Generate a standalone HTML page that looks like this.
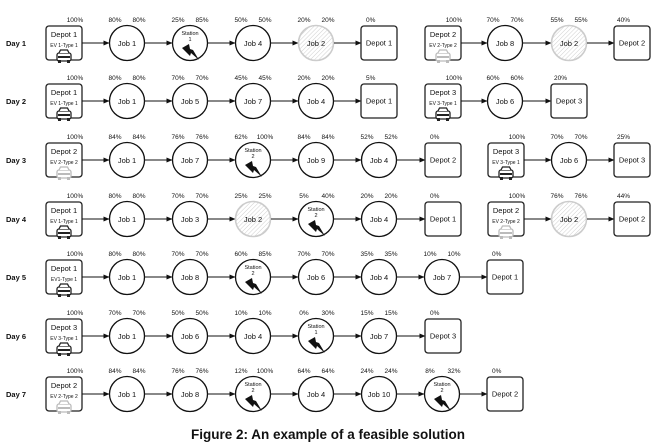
<!DOCTYPE html>
<html><head><meta charset="utf-8"><style>
html,body{margin:0;padding:0;background:#fff;width:664px;height:442px;overflow:hidden}
svg{display:block;font-family:"Liberation Sans",sans-serif}
.n{font-size:7.5px;text-anchor:middle;fill:#111}
.p{font-size:6.5px;text-anchor:middle;fill:#111}
.ps{font-size:6.5px;fill:#111}
.e{font-size:5px;text-anchor:middle;fill:#111}
.s{font-size:5.5px;text-anchor:middle;fill:#111}
.d{font-size:7.5px;font-weight:bold;fill:#111}
.c{fill:#fff;stroke:#111;stroke-width:1.3}
.h{fill:url(#hatch);stroke:#ccc;stroke-width:1.6}
.b{fill:#fff;stroke:#222;stroke-width:1.3}
.a{stroke:#111;stroke-width:1;marker-end:url(#arr)}
</style></head><body>
<svg width="664" height="442" viewBox="0 0 664 442" xmlns="http://www.w3.org/2000/svg">
<defs>
<marker id="arr" markerWidth="6" markerHeight="6" refX="5.5" refY="3" orient="auto" markerUnits="userSpaceOnUse"><path d="M0,0.5 L6,3 L0,5.5 Z" fill="#111"/></marker>
<pattern id="hatch" width="3" height="3" patternUnits="userSpaceOnUse" patternTransform="rotate(45)"><rect width="3" height="3" fill="#fff"/><line x1="0" y1="0" x2="0" y2="3" stroke="#bbb" stroke-width="0.7"/></pattern>
<g id="carb"><rect x="-7" y="-4" width="14" height="8" rx="2" fill="#fff" stroke="#222" stroke-width="1.3"/><path d="M-5,-4 L-3.5,-7 L3.5,-7 L5,-4" fill="#fff" stroke="#222" stroke-width="1.3"/><rect x="-6" y="-1" width="12" height="2" fill="#222"/><rect x="-6" y="3" width="3" height="3" fill="#222"/><rect x="3" y="3" width="3" height="3" fill="#222"/></g>
<g id="carg"><rect x="-7" y="-4" width="14" height="8" rx="2" fill="#fff" stroke="#bbb" stroke-width="1.3"/><path d="M-5,-4 L-3.5,-7 L3.5,-7 L5,-4" fill="#fff" stroke="#bbb" stroke-width="1.3"/><rect x="-6" y="-1" width="12" height="2" fill="#bbb"/><rect x="-6" y="3" width="3" height="3" fill="#bbb"/><rect x="3" y="3" width="3" height="3" fill="#bbb"/></g>
<path id="bolt" d="M-8,5 L-1,1 L0,6 L3,7 L9,17 L1,10 L0,13 Z" fill="#111"/>
</defs>

<!-- Row 1 -->
<g transform="translate(0,43)">
<text class="d" x="6" y="3">Day 1</text>
<rect class="b" x="46" y="-17" width="36" height="34" rx="3"/><text class="n" x="64" y="-6">Depot 1</text><text class="e" x="64" y="4">EV 1-Type 1</text><use href="#carb" x="64" y="14"/><text class="p" x="75" y="-21">100%</text>
<line class="a" x1="82" y1="0" x2="109" y2="0"/>
<circle class="c" cx="127" cy="0" r="17.5"/><text class="n" x="127" y="3">Job 1</text><text class="p" x="115" y="-21">80%</text><text class="p" x="139" y="-21">80%</text>
<line class="a" x1="145" y1="0" x2="172" y2="0"/>
<circle class="c" cx="190" cy="0" r="17.5"/><text class="s" x="190" y="-8">Station</text><text class="s" x="190" y="-2">1</text><use href="#bolt" x="190" y="0"/><text class="p" x="178" y="-21">25%</text><text class="p" x="202" y="-21">85%</text>
<line class="a" x1="208" y1="0" x2="235" y2="0"/>
<circle class="c" cx="253" cy="0" r="17.5"/><text class="n" x="253" y="3">Job 4</text><text class="p" x="241" y="-21">50%</text><text class="p" x="265" y="-21">50%</text>
<line class="a" x1="271" y1="0" x2="298" y2="0"/>
<circle class="h" cx="316" cy="0" r="17.5"/><text class="n" x="316" y="3">Job 2</text><text class="p" x="304" y="-21">20%</text><text class="p" x="328" y="-21">20%</text>
<line class="a" x1="334" y1="0" x2="361" y2="0"/>
<rect class="b" x="361" y="-17" width="36" height="34" rx="3"/><text class="n" x="379" y="2.5">Depot 1</text><text class="ps" x="366" y="-21">0%</text>
<rect class="b" x="425" y="-17" width="36" height="34" rx="3"/><text class="n" x="443" y="-6">Depot 2</text><text class="e" x="443" y="4">EV 2-Type 2</text><use href="#carg" x="443" y="14"/><text class="p" x="454" y="-21">100%</text>
<line class="a" x1="461" y1="0" x2="487" y2="0"/>
<circle class="c" cx="505" cy="0" r="17.5"/><text class="n" x="505" y="3">Job 8</text><text class="p" x="493" y="-21">70%</text><text class="p" x="517" y="-21">70%</text>
<line class="a" x1="523" y1="0" x2="551" y2="0"/>
<circle class="h" cx="569" cy="0" r="17.5"/><text class="n" x="569" y="3">Job 2</text><text class="p" x="557" y="-21">55%</text><text class="p" x="581" y="-21">55%</text>
<line class="a" x1="587" y1="0" x2="614" y2="0"/>
<rect class="b" x="614" y="-17" width="36" height="34" rx="3"/><text class="n" x="632" y="2.5">Depot 2</text><text class="ps" x="617" y="-21">40%</text>
</g>

<!-- Row 2 -->
<g transform="translate(0,101)">
<text class="d" x="6" y="3">Day 2</text>
<rect class="b" x="46" y="-17" width="36" height="34" rx="3"/><text class="n" x="64" y="-6">Depot 1</text><text class="e" x="64" y="4">EV 1-Type 1</text><use href="#carb" x="64" y="14"/><text class="p" x="75" y="-21">100%</text>
<line class="a" x1="82" y1="0" x2="109" y2="0"/>
<circle class="c" cx="127" cy="0" r="17.5"/><text class="n" x="127" y="3">Job 1</text><text class="p" x="115" y="-21">80%</text><text class="p" x="139" y="-21">80%</text>
<line class="a" x1="145" y1="0" x2="172" y2="0"/>
<circle class="c" cx="190" cy="0" r="17.5"/><text class="n" x="190" y="3">Job 5</text><text class="p" x="178" y="-21">70%</text><text class="p" x="202" y="-21">70%</text>
<line class="a" x1="208" y1="0" x2="235" y2="0"/>
<circle class="c" cx="253" cy="0" r="17.5"/><text class="n" x="253" y="3">Job 7</text><text class="p" x="241" y="-21">45%</text><text class="p" x="265" y="-21">45%</text>
<line class="a" x1="271" y1="0" x2="298" y2="0"/>
<circle class="c" cx="316" cy="0" r="17.5"/><text class="n" x="316" y="3">Job 4</text><text class="p" x="304" y="-21">20%</text><text class="p" x="328" y="-21">20%</text>
<line class="a" x1="334" y1="0" x2="361" y2="0"/>
<rect class="b" x="361" y="-17" width="36" height="34" rx="3"/><text class="n" x="379" y="2.5">Depot 1</text><text class="ps" x="366" y="-21">5%</text>
<rect class="b" x="425" y="-17" width="36" height="34" rx="3"/><text class="n" x="443" y="-6">Depot 3</text><text class="e" x="443" y="4">EV 3-Type 1</text><use href="#carb" x="443" y="14"/><text class="p" x="454" y="-21">100%</text>
<line class="a" x1="461" y1="0" x2="487" y2="0"/>
<circle class="c" cx="505" cy="0" r="17.5"/><text class="n" x="505" y="3">Job 6</text><text class="p" x="493" y="-21">60%</text><text class="p" x="517" y="-21">60%</text>
<line class="a" x1="523" y1="0" x2="551" y2="0"/>
<rect class="b" x="551" y="-17" width="36" height="34" rx="3"/><text class="n" x="569" y="2.5">Depot 3</text><text class="ps" x="554" y="-21">20%</text>
</g>

<!-- Row 3 -->
<g transform="translate(0,160)">
<text class="d" x="6" y="3">Day 3</text>
<rect class="b" x="46" y="-17" width="36" height="34" rx="3"/><text class="n" x="64" y="-6">Depot 2</text><text class="e" x="64" y="4">EV 2-Type 2</text><use href="#carg" x="64" y="14"/><text class="p" x="75" y="-21">100%</text>
<line class="a" x1="82" y1="0" x2="109" y2="0"/>
<circle class="c" cx="127" cy="0" r="17.5"/><text class="n" x="127" y="3">Job 1</text><text class="p" x="115" y="-21">84%</text><text class="p" x="139" y="-21">84%</text>
<line class="a" x1="145" y1="0" x2="172" y2="0"/>
<circle class="c" cx="190" cy="0" r="17.5"/><text class="n" x="190" y="3">Job 7</text><text class="p" x="178" y="-21">76%</text><text class="p" x="202" y="-21">76%</text>
<line class="a" x1="208" y1="0" x2="235" y2="0"/>
<circle class="c" cx="253" cy="0" r="17.5"/><text class="s" x="253" y="-8">Station</text><text class="s" x="253" y="-2">2</text><use href="#bolt" x="253" y="0"/><text class="p" x="241" y="-21">62%</text><text class="p" x="265" y="-21">100%</text>
<line class="a" x1="271" y1="0" x2="298" y2="0"/>
<circle class="c" cx="316" cy="0" r="17.5"/><text class="n" x="316" y="3">Job 9</text><text class="p" x="304" y="-21">84%</text><text class="p" x="328" y="-21">84%</text>
<line class="a" x1="334" y1="0" x2="361" y2="0"/>
<circle class="c" cx="379" cy="0" r="17.5"/><text class="n" x="379" y="3">Job 4</text><text class="p" x="367" y="-21">52%</text><text class="p" x="391" y="-21">52%</text>
<line class="a" x1="397" y1="0" x2="425" y2="0"/>
<rect class="b" x="425" y="-17" width="36" height="34" rx="3"/><text class="n" x="443" y="2.5">Depot 2</text><text class="ps" x="430" y="-21">0%</text>
<rect class="b" x="488" y="-17" width="36" height="34" rx="3"/><text class="n" x="506" y="-6">Depot 3</text><text class="e" x="506" y="4">EV 3-Type 1</text><use href="#carb" x="506" y="14"/><text class="p" x="517" y="-21">100%</text>
<line class="a" x1="524" y1="0" x2="551" y2="0"/>
<circle class="c" cx="569" cy="0" r="17.5"/><text class="n" x="569" y="3">Job 6</text><text class="p" x="557" y="-21">70%</text><text class="p" x="581" y="-21">70%</text>
<line class="a" x1="587" y1="0" x2="614" y2="0"/>
<rect class="b" x="614" y="-17" width="36" height="34" rx="3"/><text class="n" x="632" y="2.5">Depot 3</text><text class="ps" x="617" y="-21">25%</text>
</g>

<!-- Row 4 -->
<g transform="translate(0,219)">
<text class="d" x="6" y="3">Day 4</text>
<rect class="b" x="46" y="-17" width="36" height="34" rx="3"/><text class="n" x="64" y="-6">Depot 1</text><text class="e" x="64" y="4">EV 1-Type 1</text><use href="#carb" x="64" y="14"/><text class="p" x="75" y="-21">100%</text>
<line class="a" x1="82" y1="0" x2="109" y2="0"/>
<circle class="c" cx="127" cy="0" r="17.5"/><text class="n" x="127" y="3">Job 1</text><text class="p" x="115" y="-21">80%</text><text class="p" x="139" y="-21">80%</text>
<line class="a" x1="145" y1="0" x2="172" y2="0"/>
<circle class="c" cx="190" cy="0" r="17.5"/><text class="n" x="190" y="3">Job 3</text><text class="p" x="178" y="-21">70%</text><text class="p" x="202" y="-21">70%</text>
<line class="a" x1="208" y1="0" x2="235" y2="0"/>
<circle class="h" cx="253" cy="0" r="17.5"/><text class="n" x="253" y="3">Job 2</text><text class="p" x="241" y="-21">25%</text><text class="p" x="265" y="-21">25%</text>
<line class="a" x1="271" y1="0" x2="298" y2="0"/>
<circle class="c" cx="316" cy="0" r="17.5"/><text class="s" x="316" y="-8">Station</text><text class="s" x="316" y="-2">2</text><use href="#bolt" x="316" y="0"/><text class="p" x="304" y="-21">5%</text><text class="p" x="328" y="-21">40%</text>
<line class="a" x1="334" y1="0" x2="361" y2="0"/>
<circle class="c" cx="379" cy="0" r="17.5"/><text class="n" x="379" y="3">Job 4</text><text class="p" x="367" y="-21">20%</text><text class="p" x="391" y="-21">20%</text>
<line class="a" x1="397" y1="0" x2="425" y2="0"/>
<rect class="b" x="425" y="-17" width="36" height="34" rx="3"/><text class="n" x="443" y="2.5">Depot 1</text><text class="ps" x="430" y="-21">0%</text>
<rect class="b" x="488" y="-17" width="36" height="34" rx="3"/><text class="n" x="506" y="-6">Depot 2</text><text class="e" x="506" y="4">EV 2-Type 2</text><use href="#carg" x="506" y="14"/><text class="p" x="517" y="-21">100%</text>
<line class="a" x1="524" y1="0" x2="551" y2="0"/>
<circle class="h" cx="569" cy="0" r="17.5"/><text class="n" x="569" y="3">Job 2</text><text class="p" x="557" y="-21">76%</text><text class="p" x="581" y="-21">76%</text>
<line class="a" x1="587" y1="0" x2="614" y2="0"/>
<rect class="b" x="614" y="-17" width="36" height="34" rx="3"/><text class="n" x="632" y="2.5">Depot 2</text><text class="ps" x="617" y="-21">44%</text>
</g>

<!-- Row 5 -->
<g transform="translate(0,277)">
<text class="d" x="6" y="3">Day 5</text>
<rect class="b" x="46" y="-17" width="36" height="34" rx="3"/><text class="n" x="64" y="-6">Depot 1</text><text class="e" x="64" y="4">EV1-Type 1</text><use href="#carb" x="64" y="14"/><text class="p" x="75" y="-21">100%</text>
<line class="a" x1="82" y1="0" x2="109" y2="0"/>
<circle class="c" cx="127" cy="0" r="17.5"/><text class="n" x="127" y="3">Job 1</text><text class="p" x="115" y="-21">80%</text><text class="p" x="139" y="-21">80%</text>
<line class="a" x1="145" y1="0" x2="172" y2="0"/>
<circle class="c" cx="190" cy="0" r="17.5"/><text class="n" x="190" y="3">Job 8</text><text class="p" x="178" y="-21">70%</text><text class="p" x="202" y="-21">70%</text>
<line class="a" x1="208" y1="0" x2="235" y2="0"/>
<circle class="c" cx="253" cy="0" r="17.5"/><text class="s" x="253" y="-8">Station</text><text class="s" x="253" y="-2">2</text><use href="#bolt" x="253" y="0"/><text class="p" x="241" y="-21">60%</text><text class="p" x="265" y="-21">85%</text>
<line class="a" x1="271" y1="0" x2="298" y2="0"/>
<circle class="c" cx="316" cy="0" r="17.5"/><text class="n" x="316" y="3">Job 6</text><text class="p" x="304" y="-21">70%</text><text class="p" x="328" y="-21">70%</text>
<line class="a" x1="334" y1="0" x2="361" y2="0"/>
<circle class="c" cx="379" cy="0" r="17.5"/><text class="n" x="379" y="3">Job 4</text><text class="p" x="367" y="-21">35%</text><text class="p" x="391" y="-21">35%</text>
<line class="a" x1="397" y1="0" x2="424" y2="0"/>
<circle class="c" cx="442" cy="0" r="17.5"/><text class="n" x="442" y="3">Job 7</text><text class="p" x="430" y="-21">10%</text><text class="p" x="454" y="-21">10%</text>
<line class="a" x1="460" y1="0" x2="487" y2="0"/>
<rect class="b" x="487" y="-17" width="36" height="34" rx="3"/><text class="n" x="505" y="2.5">Depot 1</text><text class="ps" x="492" y="-21">0%</text>
</g>

<!-- Row 6 -->
<g transform="translate(0,336)">
<text class="d" x="6" y="3">Day 6</text>
<rect class="b" x="46" y="-17" width="36" height="34" rx="3"/><text class="n" x="64" y="-6">Depot 3</text><text class="e" x="64" y="4">EV 3-Type 1</text><use href="#carb" x="64" y="14"/><text class="p" x="75" y="-21">100%</text>
<line class="a" x1="82" y1="0" x2="109" y2="0"/>
<circle class="c" cx="127" cy="0" r="17.5"/><text class="n" x="127" y="3">Job 1</text><text class="p" x="115" y="-21">70%</text><text class="p" x="139" y="-21">70%</text>
<line class="a" x1="145" y1="0" x2="172" y2="0"/>
<circle class="c" cx="190" cy="0" r="17.5"/><text class="n" x="190" y="3">Job 6</text><text class="p" x="178" y="-21">50%</text><text class="p" x="202" y="-21">50%</text>
<line class="a" x1="208" y1="0" x2="235" y2="0"/>
<circle class="c" cx="253" cy="0" r="17.5"/><text class="n" x="253" y="3">Job 4</text><text class="p" x="241" y="-21">10%</text><text class="p" x="265" y="-21">10%</text>
<line class="a" x1="271" y1="0" x2="298" y2="0"/>
<circle class="c" cx="316" cy="0" r="17.5"/><text class="s" x="316" y="-8">Station</text><text class="s" x="316" y="-2">1</text><use href="#bolt" x="316" y="0"/><text class="p" x="304" y="-21">0%</text><text class="p" x="328" y="-21">30%</text>
<line class="a" x1="334" y1="0" x2="361" y2="0"/>
<circle class="c" cx="379" cy="0" r="17.5"/><text class="n" x="379" y="3">Job 7</text><text class="p" x="367" y="-21">15%</text><text class="p" x="391" y="-21">15%</text>
<line class="a" x1="397" y1="0" x2="425" y2="0"/>
<rect class="b" x="425" y="-17" width="36" height="34" rx="3"/><text class="n" x="443" y="2.5">Depot 3</text><text class="ps" x="430" y="-21">0%</text>
</g>

<!-- Row 7 -->
<g transform="translate(0,394)">
<text class="d" x="6" y="3">Day 7</text>
<rect class="b" x="46" y="-17" width="36" height="34" rx="3"/><text class="n" x="64" y="-6">Depot 2</text><text class="e" x="64" y="4">EV 2-Type 2</text><use href="#carg" x="64" y="14"/><text class="p" x="75" y="-21">100%</text>
<line class="a" x1="82" y1="0" x2="109" y2="0"/>
<circle class="c" cx="127" cy="0" r="17.5"/><text class="n" x="127" y="3">Job 1</text><text class="p" x="115" y="-21">84%</text><text class="p" x="139" y="-21">84%</text>
<line class="a" x1="145" y1="0" x2="172" y2="0"/>
<circle class="c" cx="190" cy="0" r="17.5"/><text class="n" x="190" y="3">Job 8</text><text class="p" x="178" y="-21">76%</text><text class="p" x="202" y="-21">76%</text>
<line class="a" x1="208" y1="0" x2="235" y2="0"/>
<circle class="c" cx="253" cy="0" r="17.5"/><text class="s" x="253" y="-8">Station</text><text class="s" x="253" y="-2">2</text><use href="#bolt" x="253" y="0"/><text class="p" x="241" y="-21">12%</text><text class="p" x="265" y="-21">100%</text>
<line class="a" x1="271" y1="0" x2="298" y2="0"/>
<circle class="c" cx="316" cy="0" r="17.5"/><text class="n" x="316" y="3">Job 4</text><text class="p" x="304" y="-21">64%</text><text class="p" x="328" y="-21">64%</text>
<line class="a" x1="334" y1="0" x2="361" y2="0"/>
<circle class="c" cx="379" cy="0" r="17.5"/><text class="n" x="379" y="3">Job 10</text><text class="p" x="367" y="-21">24%</text><text class="p" x="391" y="-21">24%</text>
<line class="a" x1="397" y1="0" x2="424" y2="0"/>
<circle class="c" cx="442" cy="0" r="17.5"/><text class="s" x="442" y="-8">Station</text><text class="s" x="442" y="-2">2</text><use href="#bolt" x="442" y="0"/><text class="p" x="430" y="-21">8%</text><text class="p" x="454" y="-21">32%</text>
<line class="a" x1="460" y1="0" x2="487" y2="0"/>
<rect class="b" x="487" y="-17" width="36" height="34" rx="3"/><text class="n" x="505" y="2.5">Depot 2</text><text class="ps" x="492" y="-21">0%</text>
</g>

<text x="328" y="439" text-anchor="middle" style="font-size:13.5px;font-weight:bold;fill:#111">Figure 2: An example of a feasible solution</text>
</svg>
</body></html>
